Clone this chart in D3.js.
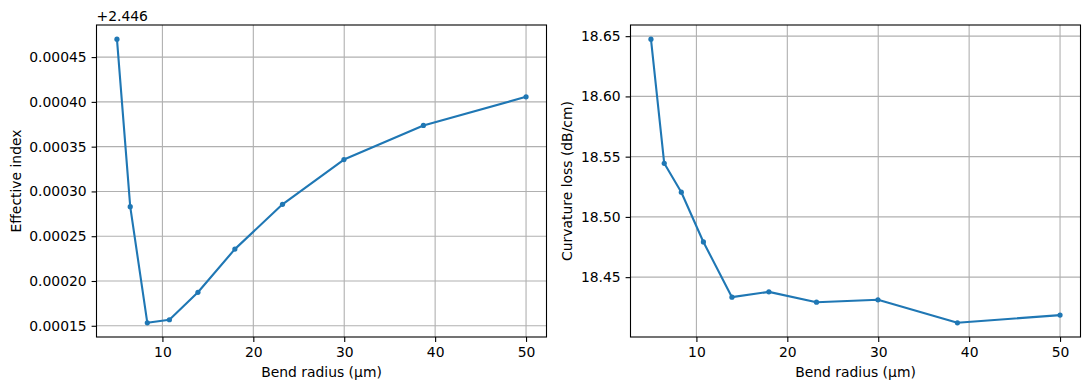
<!DOCTYPE html>
<html>
<head>
<meta charset="utf-8">
<script src="https://cdn.jsdelivr.net/npm/d3@7"></script>
<style>
  html, body { margin: 0; padding: 0; background: #fff; }
  svg { display: block; }
  text { font-family: "DejaVu Sans", sans-serif; fill: #000; }
</style>
</head>
<body>
<svg id="chart" width="1089" height="390"></svg>
<script>
// ---- data ----
const bendRadius = [5, 6.46, 8.34, 10.77, 13.91, 17.97, 23.21, 29.97, 38.71, 50];
const effIndex = [2.446470, 2.446283, 2.4461533, 2.4461567, 2.4461874, 2.4462356, 2.4462856, 2.4463356, 2.4463737, 2.4464056];
const effOffset = 2.446;
const curvLoss = [18.6475, 18.5445, 18.5205, 18.4792, 18.4334, 18.4378, 18.4292, 18.4312, 18.4121, 18.4185];
const xTicks = [10, 20, 30, 40, 50];
const effTicks = [0.00015, 0.00020, 0.00025, 0.00030, 0.00035, 0.00040, 0.00045];
const lossTicks = [18.45, 18.50, 18.55, 18.60, 18.65];
const xLabel = "Bend radius (µm)";
const effLabel = "Effective index";
const lossLabel = "Curvature loss (dB/cm)";

const svg = d3.select("#chart");
const color = "#1f77b4";
const fontSize = 13.9;

function pad(ext) {
  const m = (ext[1] - ext[0]) * 0.05;
  return [ext[0] - m, ext[1] + m];
}

function panel(opts) {
  const { left, right, top, bottom, xs, ys, yTicks, yFmt, yLabel, yLabelX, offsetText } = opts;
  const g = svg.append("g");
  const x = d3.scaleLinear().domain(pad(d3.extent(xs))).range([left, right]);
  const y = d3.scaleLinear().domain(pad(d3.extent(ys))).range([bottom, top]);

  // grid
  g.append("g").selectAll("line.gx").data(xTicks).join("line")
    .attr("x1", d => x(d)).attr("x2", d => x(d))
    .attr("y1", top).attr("y2", bottom)
    .attr("stroke", "#b0b0b0").attr("stroke-width", 1.1);
  g.append("g").selectAll("line.gy").data(yTicks).join("line")
    .attr("x1", left).attr("x2", right)
    .attr("y1", d => y(d)).attr("y2", d => y(d))
    .attr("stroke", "#b0b0b0").attr("stroke-width", 1.1);

  // line + markers
  const pts = xs.map((v, i) => [v, ys[i]]);
  g.append("path").datum(pts)
    .attr("d", d3.line().x(d => x(d[0])).y(d => y(d[1])))
    .attr("fill", "none").attr("stroke", color).attr("stroke-width", 2.1)
    .attr("stroke-linejoin", "round").attr("stroke-linecap", "butt");
  g.append("g").selectAll("circle").data(pts).join("circle")
    .attr("cx", d => x(d[0])).attr("cy", d => y(d[1])).attr("r", 2.6)
    .attr("fill", color);

  // axes
  const xAxis = d3.axisBottom(x).tickValues(xTicks).tickSize(4.9).tickPadding(4.9).tickFormat(d3.format("d"));
  const gx = g.append("g").attr("transform", `translate(0,${bottom})`).call(xAxis);
  const yAxis = d3.axisLeft(y).tickValues(yTicks).tickSize(4.9).tickPadding(4.9).tickFormat(yFmt);
  const gy = g.append("g").attr("transform", `translate(${left},0)`).call(yAxis);
  [gx, gy].forEach(a => {
    a.select(".domain").remove();
    a.selectAll(".tick line").attr("stroke", "#000").attr("stroke-width", 1.1);
    a.selectAll(".tick text").style("font-family", "DejaVu Sans").style("font-size", fontSize + "px").attr("fill", "#000");
  });

  // frame
  g.append("rect").attr("x", left).attr("y", top)
    .attr("width", right - left).attr("height", bottom - top)
    .attr("fill", "none").attr("stroke", "#000").attr("stroke-width", 1.1);

  // labels
  g.append("text").attr("x", (left + right) / 2).attr("y", 377)
    .attr("text-anchor", "middle").style("font-size", fontSize + "px").text(xLabel);
  g.append("text")
    .attr("transform", `translate(${yLabelX},${(top + bottom) / 2}) rotate(-90)`)
    .attr("text-anchor", "middle").style("font-size", fontSize + "px").text(yLabel);
  if (offsetText) {
    g.append("text").attr("x", left).attr("y", 20.5)
      .style("font-size", fontSize + "px").text(offsetText);
  }
}

panel({
  left: 96.5, right: 546.5, top: 25, bottom: 337,
  xs: bendRadius, ys: effIndex.map(v => v - effOffset),
  yTicks: effTicks, yFmt: d3.format(".5f"), yLabel: effLabel, yLabelX: 21,
  offsetText: "+" + effOffset.toFixed(3)
});
panel({
  left: 630.5, right: 1080.5, top: 25, bottom: 337,
  xs: bendRadius, ys: curvLoss,
  yTicks: lossTicks, yFmt: d3.format(".2f"), yLabel: lossLabel, yLabelX: 572
});
</script>
</body>
</html>
